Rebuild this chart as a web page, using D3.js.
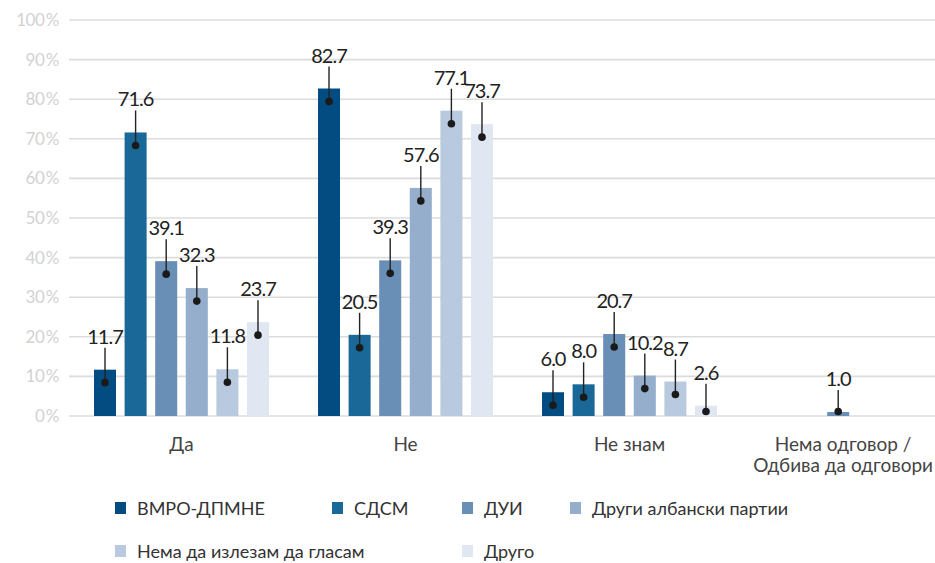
<!DOCTYPE html>
<html>
<head>
<meta charset="utf-8">
<script src="https://cdn.jsdelivr.net/npm/d3@7/dist/d3.min.js"></script>
<style>
  html, body { margin: 0; padding: 0; background: #fff; }
  svg { display: block; }
</style>
</head>
<body>
<svg id="chart"></svg>
<script>
// categories on the x axis (the last one wraps onto two lines)
var categories = ['Да', 'Не', 'Не знам', 'Нема одговор / Одбива да одговори'];
var categoryLines = [['Да'], ['Не'], ['Не знам'], ['Нема одговор /', 'Одбива да одговори']];

// parties / answers shown as series
var seriesNames = ['ВМРО-ДПМНЕ', 'СДСМ', 'ДУИ', 'Други албански партии', 'Нема да излезам да гласам', 'Друго'];
var seriesColors = ['#024c81', '#196898', '#6a8fb6', '#94aecb', '#b9c9e0', '#e0e7f2'];

// values (%) per series, in the order of categories
var vmro = [11.7, 82.7, 6.0, null];
var sdsm = [71.6, 20.5, 8.0, null];
var dui = [39.1, 39.3, 20.7, 1.0];
var drugiAlb = [32.3, 57.6, 10.2, null];
var nemaIzlez = [11.8, 77.1, 8.7, null];
var drugo = [23.7, 73.7, 2.6, null];

var yTicks = [0, 10, 20, 30, 40, 50, 60, 70, 80, 90, 100];

var seriesValues = [vmro, sdsm, dui, drugiAlb, nemaIzlez, drugo];

var width = 935, height = 563;
var svg = d3.select('svg#chart')
    .attr('width', width)
    .attr('height', height)
    .attr('viewBox', '0 0 ' + width + ' ' + height);

var gridLeft = 69;
var y = d3.scaleLinear().domain([0, 100]).range([416, 20]);

// groups run past the right edge, the picture is cut there
var x0 = d3.scaleBand().domain(categories).range([69.5, 965.5]).padding(0);
var groupSpan = 175;
var x1 = d3.scaleBand().domain(seriesNames)
    .range([(x0.bandwidth() - groupSpan) / 2, (x0.bandwidth() + groupSpan) / 2])
    .paddingInner(0.28).paddingOuter(0);

var fmt = d3.format('.1f');
var valueFont = 'Lato, "DejaVu Sans", sans-serif';

// gridlines
svg.append('g')
    .selectAll('line')
    .data(yTicks)
    .join('line')
    .attr('x1', gridLeft)
    .attr('x2', width)
    .attr('y1', function(d){ return y(d); })
    .attr('y2', function(d){ return y(d); })
    .style('stroke', '#dcdcdc')
    .style('stroke-width', 1.6);

// y axis labels
svg.append('g')
    .selectAll('text')
    .data(yTicks)
    .join('text')
    .attr('x', 59)
    .attr('y', function(d){ return y(d) + 6; })
    .attr('text-anchor', 'end')
    .style('font-family', valueFont)
    .style('font-size', '17px')
    .style('letter-spacing', '-0.5px')
    .style('fill', '#d2d2d2')
    .text(function(d){ return d + '\u2009%'; });

// flatten into one record per bar
var bars = [];
seriesNames.forEach(function(s, si){
    categories.forEach(function(c, ci){
        var v = seriesValues[si][ci];
        if(v !== null){
            bars.push({ series: s, cat: c, value: v, color: seriesColors[si] });
        }
    });
});

var barG = svg.append('g');
barG.selectAll('rect')
    .data(bars)
    .join('rect')
    .attr('x', function(d){ return x0(d.cat) + x1(d.series); })
    .attr('y', function(d){ return y(d.value); })
    .attr('width', x1.bandwidth())
    .attr('height', function(d){ return y(0) - y(d.value); })
    .style('fill', function(d){ return d.color; });

// callout labels: text above, line down to a dot inside the bar
function cx(d){ return x0(d.cat) + x1(d.series) + x1.bandwidth() / 2; }
function dotY(d){ return Math.min(y(d.value) + 13, y(0) - 4.5); }
function labelY(d){ return y(d.value) - 26; }

var labelG = svg.append('g');
labelG.selectAll('line')
    .data(bars)
    .join('line')
    .attr('x1', cx)
    .attr('x2', cx)
    .attr('y1', function(d){ return labelY(d) + 4; })
    .attr('y2', dotY)
    .style('stroke', '#222')
    .style('stroke-width', 1.4);

labelG.selectAll('circle')
    .data(bars)
    .join('circle')
    .attr('cx', cx)
    .attr('cy', dotY)
    .attr('r', 3.8)
    .style('fill', '#1a1a1a');

labelG.selectAll('text')
    .data(bars)
    .join('text')
    .attr('x', cx)
    .attr('y', labelY)
    .attr('text-anchor', 'middle')
    .style('font-family', valueFont)
    .style('font-size', '20px')
    .style('letter-spacing', '-1px')
    .style('fill', '#222')
    .text(function(d){ return fmt(d.value); });

// category labels, one text per line; the wrapped one is pulled in so it stays on the page
var catG = svg.append('g');
categories.forEach(function(c, ci){
    var texts = [];
    categoryLines[ci].forEach(function(line, li){
        texts.push(catG.append('text')
            .attr('y', 451 + li * 21)
            .attr('text-anchor', 'middle')
            .style('font-family', valueFont)
            .style('font-size', '19px')
            .style('fill', '#444')
            .text(line));
    });
    var maxW = d3.max(texts, function(t){ return t.node().getComputedTextLength(); });
    var center = Math.min(x0(c) + x0.bandwidth() / 2, width - maxW / 2 - 2);
    texts.forEach(function(t){ t.attr('x', center); });
});

// legend, wrapped onto two rows
var legendPos = [[115, 502], [332, 502], [462, 502], [570, 502], [115, 545], [462, 545]];
var legend = svg.append('g')
    .selectAll('g')
    .data(seriesNames)
    .join('g')
    .attr('transform', function(d, i){ return 'translate(' + legendPos[i][0] + ',' + legendPos[i][1] + ')'; });

legend.append('rect')
    .attr('width', 11)
    .attr('height', 12)
    .style('fill', function(d, i){ return seriesColors[i]; });

legend.append('text')
    .attr('x', 22)
    .attr('y', 13)
    .style('font-family', valueFont)
    .style('font-size', '18px')
    .style('fill', '#333')
    .text(function(d){ return d; });
</script>
</body>
</html>
